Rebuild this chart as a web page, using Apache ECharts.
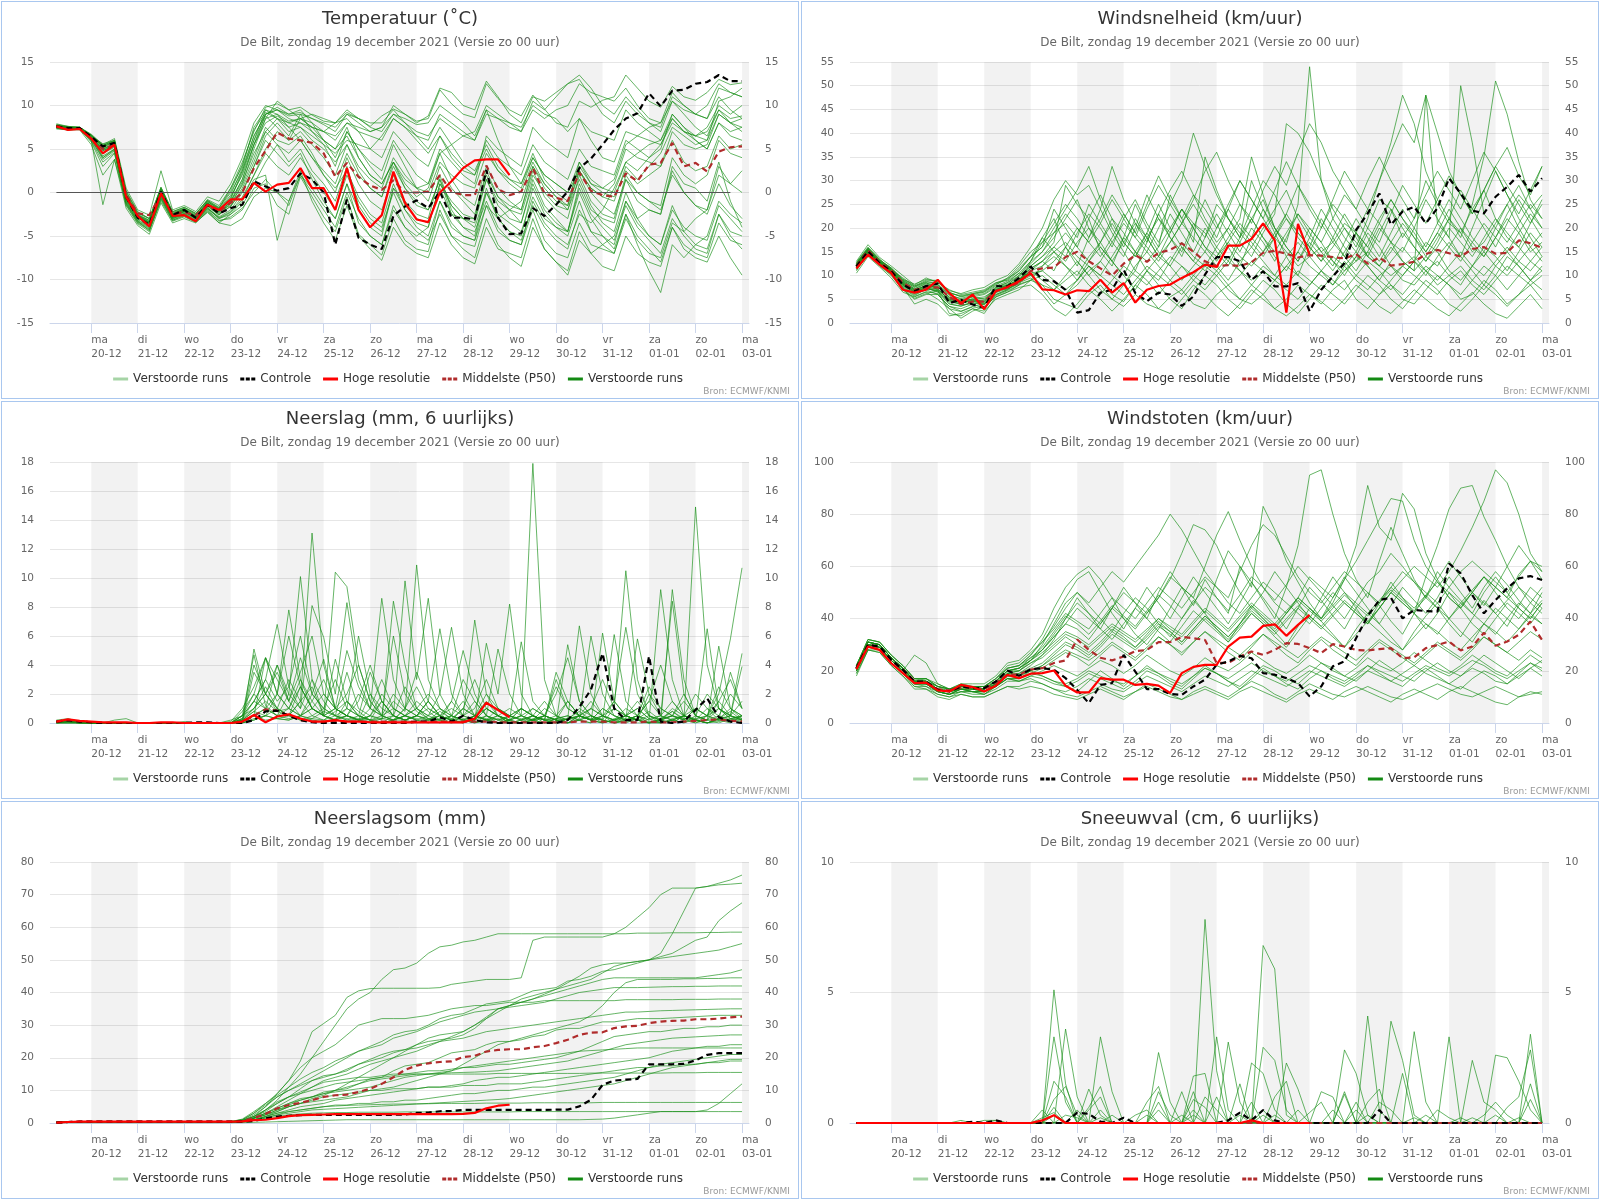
<!DOCTYPE html>
<html>
<head>
<meta charset="utf-8">
<script src="https://cdn.jsdelivr.net/npm/echarts@6/dist/echarts.min.js"></script>
<style>
  body { margin:0; width:1600px; height:1200px; background:#fff; position:relative; }
  .paneel { position:absolute; width:796px; height:396px; border:1px solid #a9c7ef; }
</style>
</head>
<body>
<div class="paneel" id="p1" style="left:1px;top:1px"></div>
<div class="paneel" id="p2" style="left:801px;top:1px"></div>
<div class="paneel" id="p3" style="left:1px;top:401px"></div>
<div class="paneel" id="p4" style="left:801px;top:401px"></div>
<div class="paneel" id="p5" style="left:1px;top:801px"></div>
<div class="paneel" id="p6" style="left:801px;top:801px"></div>
<script>
// tijdstippen in uren vanaf ma 20-12 00 uur (6-uurlijks)
var uren = [-18,-12,-6,0,6,12,18,24,30,36, 42,48,54,60,66,72,78,84,90,96,
  102,108,114,120,126,132,138,144,150,156, 162,168,174,180,186,192,198,204,210,216,
  222,228,234,240,246,252,258,264,270,276, 282,288,294,300,306,312,318,324,330,336];
var dagUren = [0,24,48,72,96,120,144,168,192,216,240,264,288,312,336];
var dagNamen = ['ma','di','wo','do','vr','za','zo','ma','di','wo','do','vr','za','zo','ma'];
var datums = ['20-12','21-12','22-12','23-12','24-12','25-12','26-12','27-12','28-12','29-12','30-12','31-12','01-01','02-01','03-01'];
var banden = [0,48,96,144,192,240,288,336];
var subtitel = 'De Bilt, zondag 19 december 2021 (Versie zo 00 uur)';

// ---------- temperatuur ----------
var tempControle = [7.6,7.4,7.4,6.4,5.3,5.7,-0.5,-2.9,-3.7,0.1,
  -2.6,-2.0,-2.9,-1.4,-2.4,-1.8,-1.4,1.3,0.7,0.2,
  0.5,2.2,1.5,0.0,-6.0,-0.8,-5.2,-6.0,-6.5,-2.7,
  -1.6,-0.9,-1.8,0.1,-2.9,-2.9,-3.1,2.6,-2.9,-4.8,
  -4.7,-1.8,-2.7,-1.4,0.1,2.8,3.9,5.5,7.2,8.5,
  9.1,11.4,9.9,11.7,11.8,12.5,12.7,13.5,12.8,12.8];
var tempHoge = [7.6,7.2,7.3,6.2,4.5,5.5,-0.5,-2.7,-3.9,-0.1,
  -2.7,-2.6,-3.3,-1.4,-2.0,-0.8,-0.8,1.1,0.1,0.9,
  1.1,2.8,0.5,0.5,-2.0,2.8,-2.0,-4.0,-2.6,2.4,
  -1.2,-3.1,-3.4,0.0,1.3,2.8,3.7,3.8,3.8,2.0];
var tempMediaan = [7.6,7.4,7.4,6.3,5.0,5.5,-0.3,-2.4,-2.6,-0.3,
  -2.4,-2.3,-2.6,-1.5,-2.2,-1.2,0.0,2.8,4.8,6.9,
  6.2,6.0,5.7,4.5,1.8,3.4,1.8,0.8,0.3,1.4,
  0.0,0.0,0.1,2.0,0.1,-0.3,-0.3,3.1,0.4,-0.3,
  0.1,2.8,-0.1,-0.6,-1.0,2.3,0.2,-0.3,-0.5,2.2,
  1.3,3.2,3.4,5.7,3.0,3.4,2.4,4.7,5.2,5.3];
var tempLeden = [
 [7.8,7.5,7.4,6.5,5.6,6.0,0.2,-2.2,-3.0,0.5, -2.3,-1.8,-2.5,-0.8,-1.5,0.5,3.5,7.0,9.8,10.2, 9.5,9.8,8.9,8.2,8.0,9.2,8.5,7.6,8.8,9.6, 9.0,8.2,8.5,11.8,10.2,9.0,8.6,12.5,10.8,9.5, 8.8,11.2,9.6,8.0,7.5,10.5,9.8,10.6,11.0,13.5, 12.0,10.5,9.8,12.2,11.0,10.6,11.5,13.0,12.4,12.6],
 [7.5,7.3,7.5,6.2,4.8,5.4,-0.8,-3.0,-3.5,0.0, -2.8,-2.2,-3.0,-1.6,-2.6,-1.0,1.5,5.5,8.5,9.0, 8.2,8.5,7.5,6.0,5.0,7.5,4.0,2.0,1.0,3.5, 0.5,-1.5,-2.0,1.5,-2.5,-4.0,-4.5,-1.0,-4.0,-5.5, -6.0,-2.0,-5.5,-7.0,-7.5,-3.5,-6.0,-6.5,-7.0,-2.5, -5.0,-6.5,-8.0,-4.0,-6.5,-7.5,-8.0,-5.0,-7.5,-9.5],
 [7.4,7.2,7.3,5.8,3.0,4.5,-1.5,-3.6,-4.5,-0.8, -3.2,-2.6,-3.3,-2.0,-3.2,-3.0,-2.0,0.5,1.0,-1.5, -2.5,1.8,-0.5,-2.8,-4.5,-0.5,-4.8,-6.0,-7.2,-3.0, -5.5,-6.5,-6.8,-2.0,-5.0,-5.8,-6.2,-1.5,-4.5,-5.5, -6.0,-1.0,-3.5,-5.0,-6.0,-2.5,-3.5,-2.0,0.5,3.5, 4.5,5.5,6.0,8.5,7.0,6.5,7.0,9.5,8.5,8.8],
 [7.7,7.5,7.4,6.6,5.2,5.8,-0.2,-2.6,-3.4,0.3, -2.5,-1.9,-2.7,-1.2,-2.0,-0.5,2.0,5.5,8.0,8.8, 8.0,7.5,6.5,5.5,4.5,6.0,5.5,5.0,6.5,8.5, 7.5,6.0,4.5,6.5,4.0,2.5,2.0,5.0,2.5,1.0, 0.0,3.5,1.0,-0.5,-1.5,2.5,0.5,-0.5,-1.0,3.0, 1.5,3.0,4.5,7.5,6.5,5.5,6.0,9.0,8.0,8.5],
 [7.3,7.2,7.2,5.5,2.0,3.8,-1.8,-3.8,-4.8,-1.2, -3.5,-3.0,-3.5,-2.2,-3.5,-3.8,-3.0,-0.5,0.5,0.0, -1.0,2.5,-1.0,-3.5,-5.5,-1.5,-5.0,-6.5,-7.8,-4.0, -6.0,-7.0,-7.5,-3.5,-6.0,-7.5,-8.2,-4.0,-6.5,-7.0, -7.5,-3.0,-6.5,-8.0,-9.5,-5.5,-7.0,-6.0,-5.0,-1.0, -3.5,-5.0,-6.0,-2.0,-4.0,-5.0,-5.5,-1.5,-3.0,-4.5],
 [7.6,7.4,7.4,6.3,4.0,5.0,-1.0,-3.2,-4.0,-0.3, -3.0,-2.4,-3.1,-1.8,-2.8,-2.0,0.0,3.0,6.5,8.0, 6.5,9.0,7.0,5.5,3.0,7.0,5.0,3.0,1.5,5.5, 3.0,0.5,-1.0,3.0,0.5,-1.0,-2.5,2.0,-0.5,-2.0, -3.5,1.5,-1.5,-3.0,-4.5,0.0,-3.0,-5.0,-6.5,-2.5, -6.0,-9.0,-11.5,-6.0,-7.5,-6.0,-5.0,-1.0,-2.5,-3.5],
 [7.8,7.6,7.5,6.7,5.5,6.2,0.5,-2.0,-2.6,2.5, -2.0,-1.5,-2.2,-0.5,-1.0,1.0,4.0,8.0,10.0,9.5, 8.8,9.0,8.5,7.8,7.0,9.0,8.0,7.0,7.5,10.0, 9.0,8.0,8.8,12.0,11.5,10.0,9.5,12.8,11.0,9.0, 8.0,11.0,10.5,11.5,12.5,13.5,12.0,10.0,9.0,11.0, 9.5,8.0,7.0,10.5,9.0,7.5,6.5,9.5,8.0,7.0],
 [7.5,7.4,7.4,6.3,4.5,5.2,-0.6,-2.8,-3.8,-0.4, -2.9,-2.3,-3.0,-1.5,-2.6,-1.2,0.8,4.0,7.5,6.0, 5.5,6.5,4.5,2.0,0.0,4.0,1.0,-1.0,-2.0,2.0, -1.5,-3.0,-3.5,0.5,-2.5,-3.0,-3.0,2.5,-0.5,-1.5, -2.0,3.0,0.5,-1.0,-1.5,3.5,1.0,0.0,-0.5,2.5, 1.0,2.0,3.0,6.0,3.5,2.5,3.0,6.5,5.0,5.5],
 [7.6,7.5,7.4,6.4,5.0,5.5,-0.4,-2.5,-3.2,0.2, -2.6,-2.0,-2.8,-1.0,-2.0,-1.5,1.0,5.0,8.5,10.5, 9.5,8.5,8.0,7.0,6.5,8.0,7.5,7.0,7.5,9.0, 8.5,7.8,8.0,10.0,9.0,8.0,6.5,9.5,6.0,3.0, 1.0,4.5,1.5,0.0,-1.0,3.0,1.0,0.5,1.5,5.5, 6.5,7.5,8.0,10.5,9.5,9.0,10.0,12.5,11.5,11.0],
 [7.4,7.3,7.3,6.0,-1.4,3.8,-1.2,-3.4,-4.2,-1.0, -3.3,-2.8,-3.4,-2.3,-3.5,-2.5,-1.0,1.5,2.0,-5.5, -1.0,2.0,0.5,-1.5,-3.0,1.0,-2.0,-4.0,-5.0,0.5, -2.0,-3.5,-4.0,1.0,-1.5,-3.0,-4.0,0.0,-2.5,-3.5, -4.5,-0.5,-3.0,-4.0,-5.0,-1.0,-4.5,-6.0,-7.0,-3.0, -5.5,-7.0,-7.5,-3.5,-4.5,-3.0,-2.0,2.0,1.0,2.5],
 [7.9,7.6,7.5,6.6,5.4,6.0,0.0,-2.4,-3.0,0.6, -2.2,-1.7,-2.4,-0.9,-1.8,0.0,2.5,6.5,9.0,9.5, 8.5,8.0,7.5,7.0,8.0,8.5,7.0,5.0,4.0,7.0, 5.5,4.0,3.0,6.5,4.5,3.0,2.0,6.0,4.0,3.0, 2.0,5.5,3.5,2.5,1.5,5.0,3.0,2.5,2.0,6.0, 5.0,4.0,5.0,9.0,7.5,6.5,6.0,10.5,11.0,12.0],
 [7.6,7.4,7.4,6.2,4.2,5.0,-0.9,-3.1,-3.9,-0.2, -2.9,-2.4,-3.2,-1.7,-3.0,-2.5,-1.5,1.0,3.5,5.5, 3.5,5.0,2.5,1.0,-1.0,3.0,-1.5,-3.5,-4.5,0.5, -1.0,-2.5,-3.0,2.0,-2.0,-4.0,-5.0,0.5,-3.0,-4.5, -5.5,-1.5,-4.0,-5.5,-6.5,-2.0,-4.5,-5.0,-6.0,-1.0, -3.0,-2.0,-2.5,3.0,1.0,0.5,-1.0,3.5,-1.0,-4.0],
 [7.7,7.5,7.5,6.5,5.4,5.9,-0.3,-2.7,-3.5,0.4, -2.4,-1.9,-2.8,-1.3,-2.2,-0.8,2.5,6.0,9.5,8.5, 7.0,7.5,6.0,5.0,3.5,5.5,3.0,1.5,0.5,4.0, 2.0,0.5,0.0,3.5,2.0,1.0,0.5,4.5,2.5,1.5, 1.0,4.0,2.0,1.0,0.0,2.5,0.0,-1.5,-2.5,1.5, 0.0,-1.0,-2.0,2.0,0.0,-1.5,-2.5,1.0,-1.5,-3.0],
 [7.5,7.3,7.3,6.1,3.8,4.8,-1.3,-3.3,-4.4,-0.6, -3.1,-2.5,-3.3,-1.9,-2.9,-2.2,-0.5,2.0,5.0,7.0, 6.0,8.5,9.0,8.5,8.0,9.5,8.5,7.5,7.0,9.0, 8.0,7.0,6.5,8.5,7.5,6.5,6.0,9.0,8.5,8.0, 7.5,10.0,9.0,8.5,7.0,8.5,6.0,4.0,3.5,7.0, 6.5,6.0,5.5,8.5,7.0,6.0,5.0,8.0,6.5,6.0],
 [7.6,7.4,7.4,6.4,4.8,5.4,-0.5,-2.8,-3.6,0.0, -2.7,-2.1,-3.0,-1.4,-2.4,-1.6,0.5,3.5,7.0,8.5, 7.5,6.0,4.0,2.0,0.5,2.5,-0.5,-2.5,-3.5,1.0, -2.0,-4.0,-5.0,-1.0,-3.5,-5.0,-5.5,-1.5,-3.0,-2.0, -1.0,3.0,1.0,-0.5,-2.0,1.5,-1.5,-3.5,-4.5,0.0, -3.0,-5.0,-6.0,-1.5,-4.5,-6.0,-6.5,-2.5,-5.0,-6.5],
 [7.7,7.4,7.4,6.3,5.0,5.6,-0.7,-3.0,-3.4,0.2, -2.7,-2.2,-2.9,-1.1,-1.8,0.5,3.0,7.5,9.5,9.0, 7.5,8.0,7.0,6.0,5.0,6.5,4.0,2.0,1.0,3.5, 1.0,-0.5,0.5,4.5,5.5,6.5,7.0,10.0,9.0,8.0, 7.0,9.5,8.5,9.5,10.0,12.5,11.5,11.0,10.5,12.0, 10.0,8.5,8.0,11.5,10.0,9.0,8.5,11.0,9.5,8.5],
 [7.6,7.5,7.4,6.5,5.2,5.9,-0.2,-2.6,-3.2,0.4, -2.5,-2.0,-2.7,-1.2,-2.1,-0.6,2.2,6.0,8.8,7.5, 6.0,7.0,5.5,4.0,2.0,5.5,2.5,0.5,-0.5,3.5, 1.5,0.5,1.0,5.0,3.5,2.0,1.0,6.5,5.0,4.0, 3.0,7.5,6.0,5.0,4.0,8.5,7.0,6.5,6.0,9.5, 8.0,7.0,6.0,9.0,7.5,6.0,5.0,8.0,7.0,7.5],
 [7.5,7.3,7.4,6.2,4.6,5.3,-0.7,-2.9,-3.6,-0.1, -2.8,-2.2,-3.0,-1.5,-2.5,-1.6,0.2,3.0,6.0,4.5, 3.0,4.5,1.5,-1.0,-3.0,1.0,-3.5,-5.0,-6.0,-1.5, -4.0,-5.5,-6.0,-1.0,-4.0,-5.0,-5.5,0.0,-3.0,-4.5, -5.0,0.5,-2.5,-4.0,-4.5,1.0,-2.0,-3.0,-3.5,1.5, -1.0,-2.0,-2.5,2.5,0.0,-1.5,-2.0,3.0,1.0,0.0],
 [7.7,7.5,7.5,6.6,5.4,6.0,0.1,-2.3,-3.0,0.6, -2.2,-1.7,-2.4,-0.9,-1.7,0.2,3.2,7.2,9.2,8.5, 8.0,8.5,7.5,7.0,6.0,8.0,7.0,6.5,6.0,8.5, 7.5,6.5,6.0,9.0,8.0,7.0,6.0,9.5,8.5,7.5, 7.0,10.5,9.5,11.0,12.5,13.0,11.0,9.0,8.0,10.5, 9.0,8.0,7.5,11.0,10.0,9.0,8.5,12.0,11.5,11.0],
 [7.5,7.3,7.3,6.0,4.0,4.9,-1.1,-3.3,-4.1,-0.5, -3.0,-2.5,-3.3,-1.8,-3.0,-2.3,-0.8,2.0,4.5,3.0, 2.0,4.0,2.0,0.0,-2.0,2.0,-1.0,-3.0,-4.0,0.0, -3.0,-4.5,-5.5,-2.5,-5.0,-6.5,-7.5,-3.0,-6.0,-7.5, -8.5,-4.0,-6.5,-8.0,-9.0,-4.5,-7.0,-8.5,-9.0,-5.0, -7.0,-8.0,-8.5,-4.0,-6.0,-7.0,-7.5,-3.5,-5.5,-6.0],
 [7.6,7.4,7.4,6.3,4.9,5.5,-0.5,-2.7,-3.5,0.1, -2.6,-2.1,-2.8,-1.3,-2.3,-1.0,1.5,5.5,9.0,9.5, 9.0,9.5,8.0,6.0,4.0,7.0,5.0,3.5,2.5,6.0, 4.0,2.0,1.0,4.5,1.5,-0.5,-1.5,3.0,0.5,-1.0, -2.0,2.5,-0.5,-2.0,-3.0,2.0,-1.0,-2.5,-3.0,2.0, 0.0,-1.0,-1.5,4.0,2.0,1.0,2.0,6.0,4.5,4.0],
 [7.7,7.5,7.4,6.5,5.3,5.8,-0.3,-2.6,-3.3,0.3, -2.4,-1.9,-2.6,-1.0,-1.9,-0.3,2.8,6.5,9.0,9.8, 9.0,9.2,8.5,8.0,7.5,9.0,8.5,8.0,8.0,9.5, 8.0,6.5,5.0,7.5,5.5,3.5,2.5,5.5,3.0,1.5, 0.5,4.0,2.0,1.0,0.0,3.5,1.5,0.5,0.0,3.5, 2.5,4.0,5.5,8.0,7.0,6.5,7.5,10.0,9.0,10.0],
 [7.4,7.2,7.3,5.9,3.5,4.6,-1.4,-3.5,-4.3,-0.7, -3.2,-2.7,-3.4,-2.1,-3.3,-2.8,-1.8,0.0,1.5,0.0, -1.5,2.0,0.0,-2.0,-4.0,0.0,-3.0,-5.0,-6.0,-2.0, -4.0,-5.0,-4.0,1.0,-1.0,-2.5,-3.0,1.5,-1.0,-2.0, -2.5,2.0,0.0,-1.5,-2.0,2.5,0.5,-0.5,1.0,5.0, 4.0,3.5,3.0,7.0,5.5,5.0,5.5,9.0,8.0,7.5],
 [7.6,7.4,7.4,6.4,5.1,5.6,-0.4,-2.7,-3.4,0.2, -2.6,-2.0,-2.8,-1.2,-2.2,-1.1,1.2,4.5,7.0,5.5, 4.5,6.0,4.0,2.5,1.0,4.5,2.0,0.5,-0.5,3.0, 0.5,-1.0,-2.0,1.5,-1.5,-3.0,-3.5,1.5,-1.5,-3.0, -3.5,1.0,-2.0,-3.5,-4.5,0.5,-2.5,-4.0,-5.5,-1.5, -4.0,-5.5,-7.0,-3.0,-5.0,-6.5,-7.0,-2.5,-4.5,-5.0]
];

// ---------- windsnelheid ----------
var windControle = [11.9,15.1,12.6,10.9,8.1,6.7,7.8,8.3,4.2,4.9,
  3.9,3.2,7.8,7.7,9.5,11.9,9.1,8.8,7.0,2.2,
  2.7,6.4,7.0,11.2,6.3,4.6,6.4,6.0,3.6,5.6,
  10.2,13.9,13.9,13.0,9.1,10.9,7.7,7.7,8.4,2.5,
  7.0,9.8,12.6,19.6,23.1,27.3,20.7,23.5,24.5,21.0,
  24.2,30.5,27.3,23.7,23.1,26.6,28.7,31.2,27.7,30.5];
var windHoge = [11.5,14.4,12.3,10.5,7.0,6.4,7.0,9.1,6.3,4.2,
  6.0,2.9,6.7,7.6,8.8,10.5,7.1,6.9,6.0,6.9,
  6.7,9.1,6.4,8.4,4.3,7.0,7.8,8.1,9.5,10.7,
  12.3,11.8,16.3,16.3,17.7,21.0,17.4,2.2,20.9,14.4];
var windMediaan = [12.0,15.3,12.8,11.0,8.5,7.0,7.5,7.5,5.5,4.0,
  4.5,4.5,6.8,7.5,8.5,11.0,11.5,11.7,13.9,15.0,
  13.0,11.5,10.0,12.5,14.3,12.9,14.8,15.4,16.8,15.0,
  13.0,12.0,12.2,12.0,12.8,14.8,15.2,14.6,13.8,14.3,
  14.2,13.9,13.6,14.5,12.5,13.8,12.1,12.4,12.9,14.5,
  15.4,14.7,14.0,15.6,16.0,14.6,14.8,17.4,16.8,15.8];
var windLeden = [
 [12.5,15.8,13.2,11.5,9,7.5,8.5,7,5,4.5, 5.5,5,7,8,10,13,15,18,22,26, 20,17,22,19,15,13,16,20,24,21, 18,25,22,19,16,20,24,28,22,18, 15,17,21,19,14,12,16,13,11,14, 18,22,19,15,17,21,25,20,16,19],
 [11,14.5,12,10,7,5,6,6,3.5,3, 4,3,6,7,9,12,14,17,29,25, 22,15,12,18,25,20,16,27,22,17, 35,28,22,18,30,24,20,17,25,54, 30,22,18,15,20,26,24,18,22,30, 25,21,19,24,28,22,18,16,21,25],
 [12,15,12.5,10.5,7.5,4,5,4,1.5,2, 3,2.5,5,6,7,9,8,5,4,3, 6,8,5,3.5,6,4,3,5.5,7,4, 3,6,8,5,4,6,3,5,8,6, 4,7,9,5,3,6,8,5,4,7, 10,8,5,6,9,7,4,6,8,5],
 [13,16.5,13.8,12,10,8,9.5,8.5,7,6, 6.5,7,8.5,9,11,14,16,20,24,28, 33,26,20,16,22,18,14,19,24,20, 16,14,18,22,35,27,20,16,13,18, 24,20,16,13,17,22,26,22,18,15, 19,24,20,16,14,18,23,27,24,20],
 [11.5,14.8,12.3,10.8,8,6.5,7.5,6.5,4,3.5, 4.5,4,6.5,7.5,9,11.5,13,15,17,14, 12,10,14,18,15,11,9,13,17,14, 12,16,20,17,14,19,23,42,40,36, 30,24,20,16,22,30,38,48,42,32, 26,22,18,25,35,51,44,34,26,22],
 [12.2,15.2,12.7,11,8.2,6.8,8,7.5,5.5,4.8, 5,4.5,7.5,8.5,10.5,10,8,7,9,11, 8,6,9,12,10,8,11,14,12,9, 7,10,13,11,8,6,9,12,10,8, 11,14,12,9,7,10,12,9,8,11, 13,10,8,12,15,12,10,13,16,13],
 [10.5,14,11.8,9.5,6.5,5.5,6.5,5,3,1, 2.5,3.5,5.5,6.5,8,13,18,22,16,12, 18,24,19,15,11,17,23,18,14,20, 26,21,16,12,18,24,19,14,10,16, 22,18,14,11,15,20,17,13,11,48, 21,18,14,20,26,32,27,22,18,14],
 [12.8,16,13.5,11.2,9.5,7.8,9,9,6.5,5.5, 6,6.5,8,9.5,12,15,17,19,21,18, 25,21,17,14,20,27,22,18,15,21, 19,15,12,17,22,18,14,11,15,20, 17,13,10,14,19,16,12,10,13,17, 15,11,9,12,16,14,11,15,19,16],
 [11.8,15,12.5,10.5,7.8,6,7,6,3.5,2.5, 3.5,4,6,7,8.5,9.5,7,4,6,9, 12,9,6,4.5,8,11,8,5,3,7, 10,8,5,3,6,9,7,4,2,5, 8,6,4,7,10,8,5,3,6,9, 7,4,2.5,5,8,6,3.5,6,9,7],
 [12.3,15.5,13,11.3,8.8,7.2,8.2,8,6,5, 5.5,6,7.5,8.5,10,12.5,15,19,23,20, 17,21,26,22,18,24,29,25,21,26, 32,36,30,25,21,28,33,29,36,42, 38,32,28,24,30,35,30,26,22,27, 32,28,24,30,36,32,27,23,28,33],
 [12,15,12.8,11,8.4,7,7.8,7.8,5.2,4.2, 4.8,4.8,7.2,8,9,11,12,14,12,10, 14,17,13,10,15,19,15,12,16,13, 11,14,17,14,12,15,18,15,12,14, 16,13,11,13,15,12,10,12,14,11, 9,12,15,12,10,13,16,13,11,14],
 [11.2,14.7,12.2,10.2,7.2,5.2,6.2,6.8,2,1.5, 3,2,5.5,6.5,7.5,8,6,3,1.5,4, 7,5,2.5,5,8,6,3,2,5,8, 6,3.5,1.5,4,7,5,3,1.5,3.5,6, 4.5,2.5,5,8,6,3.5,2,4.5,7,5, 3,1.5,4,6.5,4,2,1,3.5,6,3],
 [12.6,15.7,13.3,11.6,9.2,8.2,9.2,8.8,6.8,6.2, 7,7.5,9,10,12.5,16,20,26,30,27, 29,24,33,26,21,17,23,28,32,27, 22,18,24,30,26,22,18,23,29,25, 21,17,14,19,24,21,17,15,20,26, 22,18,50,38,23,20,17,21,25,22],
 [12.1,15.4,12.9,11.1,8.6,6.9,7.6,7.2,4.8,3.8, 4.2,3.8,6.6,7.8,9.2,10.5,11,13,16,13, 10,13,17,21,18,15,20,25,30,40, 33,27,22,18,24,30,27,22,18,15, 20,25,22,18,14,19,24,20,16,13, 17,22,28,24,20,16,21,26,22,18],
 [11.6,14.9,12.4,10.6,7.6,5.8,7.2,6.8,4.4,4, 5.2,5.5,7,7.2,8.2,9,10,8,6,8, 11,13,10,8,12,15,12,9,7,10, 13,11,8,10,13,11,9,12,15,12, 10,8,11,14,12,9,7,10,13,11, 8,10,12,9,7,10,14,12,9,11],
 [12.4,15.6,13.1,11.4,9,7.6,8.8,8.2,6.2,5.8, 6.2,6.8,8.2,9.2,11.5,14,18,15,13,17, 20,16,13,17,21,18,14,17,21,25, 21,17,20,25,22,18,15,19,23,20, 17,22,27,24,20,17,23,29,25,21, 26,31,27,23,28,33,37,31,27,33],
 [12.2,15.3,12.8,11.2,8.6,7,7.8,7.6,5.4,4.6, 5,5.2,7.4,8.2,9.8,12,14,16,14,19, 23,20,16,22,26,21,17,23,19,15, 20,16,13,18,22,26,20,16,13,17, 14,11,15,19,16,13,17,21,18,14, 12,16,20,17,14,18,22,19,15,17],
 [11.8,15,12.6,10.8,8,6.2,7.2,6.8,4.6,4.2, 4.6,4.2,6.8,7.6,9,11,9,7,10,13, 10,7,5,8,11,9,6,9,12,10, 8,11,14,11,9,12,10,8,11,9, 7,10,13,10,8,6,9,12,10,8, 6,9,11,8,6,9,12,10,8,10],
 [12.4,15.5,13,11.3,8.8,7.2,8.4,8,5.8,5.2, 5.8,6.2,7.8,8.8,10.5,13,17,21,25,22, 18,22,27,23,19,25,31,26,22,27, 24,20,25,30,26,22,28,34,29,24, 20,26,32,28,24,30,36,42,38,48, 40,32,27,23,28,33,29,25,21,26],
 [11.9,15.1,12.7,10.9,8.2,6.4,7.4,6.6,4,3.6, 4.2,4,6.4,7.2,8.6,10,11,9,7,9, 12,10,8,6,9,12,10,8,6,9, 12,10,7,5,8,11,9,7,5,8, 11,9,7,10,13,11,8,6,9,12, 10,8,6,9,12,10,7,10,13,11],
 [12.6,15.8,13.3,11.6,9.2,7.8,8.6,8.6,6.4,5.6, 6.2,6.6,8.4,9.4,11,14,16,24,20,16, 22,27,22,17,14,19,25,20,16,13, 18,23,19,15,20,17,13,18,23,19, 15,12,17,22,18,14,19,24,20,16, 21,26,22,18,15,20,25,29,24,27],
 [11.4,14.6,12.2,10.4,7.4,5.6,6.6,6.2,3,2.4, 3.4,3,5.8,6.8,8,9,12,15,12,9, 13,16,13,10,7,11,14,12,9,12, 15,12,9,13,16,13,10,14,17,14, 11,8,12,15,12,9,13,16,13,10, 14,17,14,11,8,12,15,12,9,12],
 [12.3,15.4,12.9,11,8.4,6.6,7.4,7,5,4.4, 4.8,4.6,7,7.8,9.4,11.5,13,11,16,20, 17,14,18,23,19,16,13,17,21,18, 15,20,24,20,17,14,18,22,19,16, 13,18,23,19,16,21,26,22,19,15, 19,16,13,17,21,18,15,19,23,20],
 [12,15.2,12.6,10.8,8.2,6.6,7.6,7.2,4.8,4.4, 4.6,4.4,7,8,9.2,11,13,16,19,16, 13,17,21,17,14,18,22,19,24,20, 16,13,17,21,18,15,19,23,19,16, 13,16,20,17,14,12,15,19,16,13, 16,20,17,14,18,22,19,16,13,16]
];

// ---------- neerslag ----------
var regenControle = [0.1,0.2,0.1,0.05,0,0,0,0,0,0,
  0,0,0.05,0.05,0,0,0,0.2,0.8,0.85,
  0.5,0.2,0.05,0,0,0,0,0,0,0,
  0,0.1,0.1,0.4,0.1,0.5,0.2,0.05,0,0,
  0,0,0,0,0.2,1.1,2.3,4.8,1.0,0.2,
  0.2,4.6,0.1,0,0.1,0.9,1.7,0.4,0.1,0];
var regenHoge = [0.1,0.25,0.15,0.1,0.05,0.05,0.05,0,0,0.05,
  0.05,0,0,0,0,0,0.1,0.55,0.05,0.45,
  0.6,0.3,0.1,0.1,0.2,0.1,0.1,0.05,0.05,0.05,
  0.05,0.05,0.05,0.05,0.05,0.05,0.3,1.4,0.9,0.4];
var regenMediaan = [0.1,0.2,0.1,0.05,0,0,0,0,0,0,
  0,0,0,0,0,0,0.05,0.5,0.95,0.85,
  0.5,0.2,0.1,0.1,0.1,0.1,0.1,0.1,0.1,0.1,
  0.1,0.1,0.1,0.1,0.1,0.1,0.1,0.1,0.05,0.05,
  0.05,0.05,0.05,0.05,0.05,0.1,0.1,0.1,0.05,0.05,
  0.05,0.1,0.05,0.05,0.1,0.15,0.2,0.25,0.15,0.1];
var regenLeden = [
 [0.1,0.2,0,0,0,0,0,0,0,0, 0,0,0,0,0,0,0.5,4.7,1.2,0.5, 2,10.1,3,0.5,0.2,1.5,0.8,0.2,0,0.5, 2.5,1,0.3,0,0.5,3,1.5,0.5,0,0.2, 0.5,17.9,3,0.5,0,0.2,1,0.5,0.2,0, 0.3,0.8,0.2,0,0.5,2,1,0.2,0,0.5],
 [0.2,0.3,0.1,0,0,0,0,0,0,0, 0,0,0,0,0,0,0,5.1,2,0.8, 0.5,1.5,13.1,4,1,0.5,0.2,0,0.3,1.5, 0.8,10.9,3,1,0.2,0,0.5,1.5,0.5,0, 0.2,0.5,0,0,0.3,6.7,2,0.5,0,0.2, 0.5,0,0.2,0.8,0.3,0,0.2,5.3,1,0.3],
 [0,0.1,0.1,0,0,0,0,0,0,0, 0,0,0,0,0,0.1,1,2.5,4.5,2, 7.8,3,1,0.5,10.4,9.4,4,1.5,0.5,0.2, 0.5,1.5,0.8,0.2,0,0.5,7.1,2,0.5,0, 0,0.5,0.2,0,0.3,0.8,0.2,0,1,10.5, 3,0.5,0,0.2,0.5,0.2,0,0.3,0.8,0.2],
 [0.1,0.2,0.1,0.1,0,0.2,0.3,0,0,0, 0,0,0,0,0,0,0.3,1.5,3,6.8, 2.5,1,8.1,5.9,2,8.3,3,1,0.5,2, 1,0.5,0.2,0.8,0.3,0,0.2,0.5,0.2,0, 0,0.2,0.5,0.2,0,0.3,6,2,0.5,0.2, 0,0,0,9.2,3,0.5,0.2,0,0.3,0.5],
 [0.1,0.1,0,0,0,0,0,0,0,0, 0,0.1,0,0,0,0,0.8,2,1,4, 1.5,4.5,2,4.4,1,5,2.5,1,8.6,3, 1,0.5,0.2,0,0.3,1,0.5,0.2,0,0.5, 1,0.5,0.2,0,5.4,1.5,0.5,0,0.2,0.5, 0.2,0,0.3,0.8,0.2,14.9,4,1,0.3,0.2],
 [0,0.1,0,0,0,0,0,0,0,0, 0,0,0,0,0,0,0.2,0.5,0.2,0.3, 0.5,0.2,0.3,0.8,0.5,0.2,0.1,0.5,0.2,8.4, 4,1,0.5,2,6.6,2,0.5,0.2,0,0, 0.2,0.5,0.2,0.3,0.5,0.2,0,0.5,0.2,0.3, 5.8,2,0.5,0.2,0,0.3,6.5,1,0.3,0.5],
 [0.1,0.2,0.1,0,0,0,0,0,0,0, 0,0,0,0,0,0,0.1,3.5,2,1, 3,1.5,0.5,0.2,0.8,1.5,0.5,0.2,0.3,0.5, 9.8,3,8.6,2,0.5,0.2,0,0.5,5.1,2, 0.5,0.2,0,0.3,0.5,0.2,0,6.2,1.5,0.5, 0.2,0,0.3,0.5,0.2,0,0.5,2,5.8,10.7],
 [0,0,0,0,0,0,0,0,0,0, 0,0,0,0,0,0,0,0.5,1,0.5, 0.3,0.5,1,0.5,0.2,0.5,0.3,0.2,0,0.2, 0.5,0.3,0.2,0.5,0.2,0.3,0.2,5.5,2,8.2, 2,0.5,0.2,0,0.3,0.5,0.2,0.3,6.1,1.5, 0.5,0.2,9.2,3,0.5,0.2,0,0.3,0.5,4.8],
 [0.1,0.1,0.1,0,0,0,0,0,0,0, 0,0,0,0,0,0.2,0.5,1.5,3,1.5, 2.5,6,2,1,0.5,3.5,1,0.5,2,1, 0.5,1,0.5,0.2,1.5,0.5,0.2,1,0.5,0.2, 5.6,1.5,0.5,0.2,0,0.5,1,0.5,0.2,0.5, 1,0.3,0.5,8.4,2,0.5,0.2,1.5,0.5,3.9],
 [0,0,0,0,0,0,0,0,0,0, 0,0,0,0,0,0,0.2,0.8,1.5,0.8, 1,2.5,1,0.5,4.4,1.5,0.5,0.2,0.5,1, 0.5,0.2,0.5,1,0.5,0.2,0.5,0.2,0,0.2, 0.5,1,0.5,0.2,0.3,0.5,0.2,0,0.2,0.5, 1,0.3,0,0.2,0.5,0.2,0,0.3,1,0.5],
 [0.1,0.2,0.1,0,0,0,0,0,0,0, 0,0,0,0,0,0,0.5,2,4.5,3, 1.5,3.5,6,2,1,2,4,1.5,0.5,6, 2,0.8,0.3,0.5,1,0.5,1,3,1,0.5, 0.2,0.5,1.5,0.5,0.2,1,0.5,0.2,1.5,6.6, 2,0.5,0.2,1,0.5,0.3,0.5,1.5,3,1],
 [0,0,0,0,0,0,0,0,0,0, 0,0,0,0,0,0,0,0.3,0.5,0.3, 0.2,0.5,0.3,0.2,0.5,0.3,0.2,0.5,0.3,0.2, 0.2,0.5,0.3,0.2,0,0.2,0.5,0.3,0,0.2, 0.5,0.2,0,0.3,0.2,0.5,0.3,0.2,0,0.3, 0.2,0,0.2,0.5,0.3,0.2,0,0.2,0.5,0.3],
 [0.1,0.2,0.1,0,0,0,0,0,0,0, 0,0,0,0,0,0,0.3,1,2.5,1, 0.5,1.5,2.5,0.5,1,0.5,0.2,1,3,1, 0.5,1,2,1,0.5,1.5,0.5,0.2,1,0.5, 0.2,1,0.5,0.2,1.5,0.5,1,3,1,0.5, 0.2,2,1,0.5,0.2,1,0.5,2.5,1,0.5],
 [0.1,0.1,0,0,0,0,0,0,0,0, 0,0,0,0,0,0,0.1,0.5,1,2, 1,0.5,1.5,3,1,0.5,2,1,0.5,0.2, 1,2.5,1,0.5,0.2,0.5,1.5,0.5,0.2,0.5, 0.3,0.2,0.5,2.5,1,0.5,0.2,0.5,1,0.5, 0.2,0.5,0.2,0.5,1.5,0.5,0.2,0.5,2,1],
 [0,0.1,0,0,0,0,0,0,0,0, 0,0,0,0,0,0,0,0.2,0.5,1, 0.5,0.2,0.5,1,0.5,0.2,0.5,0.2,0,0.2, 0.5,0.2,0,0.3,0.5,0.2,0,0.2,0.5,0.2, 0,0.3,0.5,0.2,0,0.5,0.2,0,0.3,0.5, 0.2,0,0,0.3,0.5,0.2,0,0.3,0.2,0],
 [0.1,0.2,0.1,0,0,0,0,0,0,0, 0,0,0,0,0,0,0.5,1,2,4, 2,1,3,1.5,0.5,1,0.5,3.5,1.5,0.5, 0.2,0.5,1.5,0.5,0.2,1,3,1,0.5,0.2, 1,0.5,0.2,3.5,1.5,0.5,0.2,1,0.5,0.2, 0.5,1.5,4,1.5,0.5,0.2,1,0.5,0.2,0.5],
 [0,0,0,0,0,0,0,0,0,0, 0,0,0,0,0,0,0.3,4,2,1, 0.5,2.5,1,0.5,0.2,1,6,2,0.5,0.2, 1,3.5,1.5,0.5,0.2,0,0.5,2,1,0.5, 0.2,0,0.5,2,4.5,1.5,0.5,0.2,0,0.5, 1.5,0.5,0.2,0,0.5,1,0.5,0.2,3.5,1],
 [0.1,0.1,0,0,0,0,0,0,0,0, 0,0,0,0,0,0,0.1,0.5,4.5,2, 1,0.5,2,1,3,1,0.5,0.2,1.5,0.5, 0.2,0.5,1.5,6.5,2,0.5,0.2,1,0.5,0.2, 1,0.5,0.2,3,1,0.5,0.2,0.5,1.5,0.5, 0.2,0,0.2,0.5,2,0.5,0.2,1,0.5,0.2],
 [0,0.1,0,0,0,0,0,0,0,0, 0,0,0,0,0,0,0.2,0.8,0.5,2, 6,2.5,1,0.5,0.2,0.5,0.2,0.5,1.5,0.5, 0.2,0,0.2,0.5,0.2,0,0.5,1,0.5,0.2, 0,0.2,0.5,0.2,0,0.2,0.5,0.2,0,0.2, 0.5,1.5,0.5,0.2,0,0.5,2,1,0.5,0.2],
 [0.1,0.2,0.1,0,0,0,0,0,0,0, 0,0,0,0,0,0,0.5,1.5,1,0.5, 1,3,1.5,0.5,1,0.5,0.2,2,1,0.5, 0.2,0.5,1,0.5,1.5,5,2,0.5,0.2,0.5, 1,0.5,0.2,0.5,1.5,0.5,0.2,1,0.5,0.2, 0.5,2.5,1,0.5,0.2,1,0.5,0.2,0.5,1.5],
 [0,0,0,0,0,0,0,0,0,0, 0,0,0,0,0,0,0,0.2,0.5,0.3, 0.2,0.5,0.2,0.1,0.3,0.5,0.2,0.1,0,0.2, 0.5,0.2,0,0.2,0.5,0.2,0,0.2,0.3,0.1, 0,0.2,0.3,0.1,0,0.2,0.5,0.2,0,0.1, 0.3,0.1,0,0.2,0.5,0.2,0,0.1,0.3,0.1],
 [0.1,0.1,0,0,0,0,0,0,0,0, 0,0,0,0,0,0,0.2,1,2,3.5, 1.5,0.5,1,2,1,0.5,1.5,4,1.5,0.5, 0.2,0.5,1.5,0.5,0.2,1,0.5,0.2,0.5,1, 0.5,0.2,1,0.5,0.2,0.5,1.5,0.5,0.2,1, 0.5,0.2,0.5,1.5,0.5,0.2,0.5,1,0.5,0.2]
];

// ---------- windstoten ----------
var stootControle = [21,30,29.3,24.2,20.4,15.9,15.9,12.7,12.1,14,
  13.4,13.4,15.9,20.1,18.1,20.6,21,20.4,17.2,12.7,
  7.6,14.6,15.3,26.1,19.7,13,13,11.1,10.8,14,
  16.6,22.3,23.6,25.7,24.8,19.1,18.5,17.2,15.3,10.2,
  14,21.7,23.6,32.5,41,47.1,48,40.1,43.3,42.9,
  42.7,61.1,57.3,49,42,47.1,51.6,55.4,56.3,54.8];
var stootHoge = [20.6,29.3,28,22.9,19.1,15.3,15.5,12.5,12.1,14.6,
  13.8,12.1,14.3,18.5,17.2,18.9,19.1,20.1,14.3,11.7,
  11.7,17.2,16.6,16.6,14.6,15,14.3,11.5,19.1,21.5,
  22.3,22.3,29.3,32.7,33.1,37.2,37.8,33.4,37.6,41.4];
var stootMediaan = [21,30,29,24,20.5,16,15.5,13,12.5,13.5,
  13.5,13,15.5,18.5,18.5,20.5,21,23,24,32,
  28,25,24,25.5,27.5,28,31,31,33,32.5,
  31.8,23,23,25.5,27.4,26.1,28,30.6,30.3,28.7,
  26.8,30.2,29.3,28,27.8,28.3,28.7,24.8,25.2,28.7,
  29.9,31.2,27.8,29.3,34.6,29.6,31.2,33.8,38.9,31.8];
var stootLeden = [
 [21,31,30,25,21,16,16,13,12,13, 13,12,15,19,20,24,30,38,46,50, 45,40,35,42,48,44,38,33,40,47, 42,36,31,38,45,40,35,30,37,44, 39,34,29,36,42,38,33,28,35,41, 46,40,35,31,38,44,40,36,42,47],
 [20,30,29,24,20,15,15,12,11,13, 12,12,14,18,19,22,26,32,40,48, 42,36,44,52,46,40,50,58,52,45, 55,48,42,60,54,47,40,52,68,95, 97,80,65,55,48,62,75,65,55,48, 58,52,47,42,50,56,50,44,40,46],
 [19,28,27,22,18,14,13,11,10,11, 10,10,12,14,14,16,15,13,11,10, 12,14,12,10,12,15,13,11,9,12, 14,12,10,13,16,14,11,9,12,15, 13,11,10,12,14,12,10,9,11,13, 15,13,11,10,12,14,12,10,11,12],
 [22,32,31,26,22,17,17,14,13,14, 14,14,17,21,22,26,32,40,48,55, 58,50,42,36,44,52,46,40,48,56, 50,44,38,46,54,48,42,36,44,52, 47,41,36,44,50,45,39,34,42,49, 44,38,33,40,47,42,37,45,52,48],
 [21,31,30,25,20,16,16,13,12,14, 14,13,16,20,21,25,28,33,38,36, 32,38,44,40,36,42,48,55,65,76, 74,68,58,50,44,50,58,52,46,40, 48,56,50,44,38,46,54,48,42,36, 42,50,44,38,34,40,46,42,38,44],
 [20,29,28,23,20,26,23,15,13,14, 13,12,15,19,18,20,18,16,14,12, 16,20,17,14,18,22,19,16,14,18, 22,19,16,13,17,21,18,15,13,17, 20,17,15,18,22,19,16,14,18,21, 18,15,13,17,20,18,15,19,23,20],
 [22,32,31,26,22,17,17,15,13,15, 15,15,18,23,24,28,34,44,52,57, 60,55,48,40,34,30,36,44,52,48, 42,55,66,60,52,83,74,62,54,46, 40,48,56,50,44,38,45,52,47,42, 48,56,50,44,52,58,53,47,42,50],
 [21,30,29,24,20,16,15,13,12,13, 13,13,15,18,17,19,21,24,27,25, 22,26,30,27,24,28,33,30,26,31, 35,31,27,24,29,34,30,26,23,28, 32,28,25,22,27,31,28,25,22,26, 30,27,24,28,33,30,27,31,35,32],
 [21,31,30,25,21,16,16,13,12,14, 13,13,15,20,20,23,25,29,33,30, 27,31,36,33,29,34,39,35,31,36, 41,37,33,38,44,40,36,42,48,44, 40,46,55,68,91,75,70,88,82,65, 55,48,44,50,56,50,44,40,46,52],
 [19,28,28,23,19,14,14,11,10,12, 11,11,13,16,16,18,17,15,14,16, 19,17,15,13,16,20,18,15,13,17, 21,19,16,14,18,22,20,17,15,19, 23,21,18,16,20,24,21,18,16,20, 23,20,18,22,26,23,20,17,21,24],
 [20,30,29,24,20,15,15,12,11,13, 12,12,14,17,17,20,22,26,30,28, 25,29,34,31,28,32,37,34,30,35, 40,36,32,37,42,38,34,39,44,40, 36,41,46,42,38,44,50,46,42,56, 68,82,90,91,79,70,60,52,46,42],
 [18,28,27,22,18,13,13,10,9,11, 10,10,12,14,13,14,13,11,10,9, 11,13,11,9,12,14,12,10,9,11, 13,11,9,12,14,12,10,8,11,13, 11,9,12,14,12,10,8,11,13,11, 9,12,14,12,10,8,7,10,12,11],
 [21,31,30,25,21,16,16,14,13,14, 14,14,16,20,21,24,27,31,35,33, 30,34,38,35,32,36,40,37,34,39, 44,40,36,41,46,42,38,43,48,44, 40,45,50,46,42,47,52,48,44,49, 54,50,46,51,56,52,48,57,62,60],
 [22,31,30,25,21,16,17,14,12,14, 14,13,16,21,22,25,29,35,41,38, 34,39,45,41,37,43,49,45,40,46, 52,48,43,49,56,52,47,53,60,55, 50,45,40,47,54,58,65,60,54,48, 55,62,56,50,45,52,60,68,62,55],
 [20,30,29,24,20,15,15,12,11,13, 12,11,14,17,16,17,15,13,12,14, 17,15,13,12,15,18,16,14,12,15, 18,16,14,17,20,18,16,14,17,20, 18,16,14,17,20,18,16,19,22,19, 17,15,18,21,19,16,15,18,21,18],
 [21,30,29,24,20,16,15,13,12,13, 13,12,15,19,19,21,23,27,31,29, 26,30,35,32,29,33,38,35,31,36, 41,37,33,38,43,39,35,40,45,41, 37,42,47,43,39,44,50,55,60,56, 52,58,66,75,85,97,92,80,65,58],
 [21,31,30,25,21,16,16,13,12,14, 13,13,16,20,21,24,28,33,38,44, 40,36,32,38,44,40,35,31,37,43, 39,35,31,36,42,38,33,29,35,41, 37,33,29,34,39,35,31,28,33,38, 35,31,28,33,38,35,31,36,41,38],
 [20,29,28,23,19,15,14,12,11,12, 12,11,14,17,17,19,18,16,15,17, 20,18,16,15,18,21,19,17,15,18, 21,19,17,20,23,20,18,16,19,22, 20,18,16,19,22,20,18,16,19,22, 20,18,21,24,22,19,17,20,23,21],
 [22,32,31,26,22,17,17,14,13,15, 14,14,17,22,23,27,31,36,42,39, 36,42,48,44,40,46,52,48,44,50, 56,52,48,58,68,76,72,64,56,50, 46,52,58,54,50,46,52,58,54,50, 46,52,58,62,58,54,50,56,62,58],
 [20,30,29,24,20,15,15,12,11,13, 12,12,14,18,18,20,22,25,28,26, 24,27,31,28,25,29,33,30,27,31, 35,32,29,26,30,34,31,28,25,29, 33,30,27,24,28,32,29,26,23,27, 31,28,25,29,33,30,27,24,28,25],
 [21,31,30,25,21,16,16,13,12,14, 14,13,16,20,21,24,28,34,40,46, 42,38,44,50,46,42,48,56,52,48, 60,72,81,70,60,52,46,42,48,56, 52,48,55,62,70,78,86,85,70,60, 54,48,44,50,56,52,48,44,40,46],
 [20,29,29,24,20,15,15,12,11,12, 12,12,14,17,16,18,20,22,20,18, 21,24,22,19,22,26,23,20,18,21, 25,22,20,23,27,24,21,19,22,26, 23,20,18,21,25,22,20,23,27,24, 21,19,22,26,23,20,18,22,26,23],
 [22,31,30,25,21,17,16,14,13,14, 14,14,17,21,22,26,31,37,44,50, 46,52,58,54,60,66,72,80,74,66, 58,52,46,42,48,54,50,46,42,38, 44,50,46,42,38,44,50,46,42,38, 34,40,46,42,38,34,40,46,42,38],
 [21,30,30,25,21,16,16,13,12,13, 13,13,15,19,20,23,26,30,34,32, 29,33,37,34,31,35,40,36,33,38, 43,39,35,40,45,41,37,42,47,43, 39,44,49,45,41,46,51,47,43,48, 44,40,45,50,46,42,47,52,48,44]
];

// ---------- neerslagsom ----------
var somControle = [0.1,0.3,0.4,0.4,0.4,0.4,0.4,0.4,0.4,0.4,
  0.4,0.4,0.4,0.4,0.4,0.4,0.4,0.6,1.4,2.0,
  2.2,2.4,2.5,2.5,2.5,2.5,2.5,2.5,2.5,2.5,
  2.6,3.1,3.2,3.6,3.7,4.0,4.0,4.0,4.0,4.0,
  4.0,4.0,4.0,4.1,4.1,5.1,7.1,11.7,13.0,13.3,
  13.5,18.0,18.0,18.0,18.1,19.2,20.9,21.4,21.4,21.4];
var somHoge = [0.1,0.3,0.4,0.4,0.4,0.4,0.4,0.4,0.4,0.4,
  0.4,0.4,0.4,0.4,0.4,0.4,0.5,0.9,1.0,1.5,
  2.1,2.4,2.5,2.6,2.7,2.7,2.7,2.7,2.7,2.7,
  2.7,2.7,2.7,2.7,2.7,2.8,3.1,4.5,5.3,5.6];
var somMediaan = [0.1,0.3,0.4,0.4,0.4,0.4,0.4,0.4,0.4,0.4,
  0.4,0.4,0.4,0.4,0.4,0.4,0.6,1.5,2.8,4.5,
  5.5,6.2,7.0,8.0,8.5,8.7,9.5,10.5,12.0,14.0,
  16.3,17.6,18.3,18.7,18.9,20.2,20.6,21.9,22.4,22.6,
  22.6,23.2,23.6,24.5,25.5,27.0,27.7,27.8,29.1,29.6,
  29.8,30.6,31.1,31.3,31.4,31.8,31.8,32.0,32.4,32.6];
var somLeden = [
 [0.2,0.3,0.3,0.3,0.3,0.4,0.4,0.4,0.4,0.4, 0.4,0.4,0.4,0.4,0.4,0.5,1,3,6,9, 13,19,28,30.5,33,38.5,40.5,41.2,41.3,41.3, 41.3,41.3,41.3,41.5,42.5,43,43.5,44,44,44, 44.5,56,57,57,57,57,57,57,58,60, 63,66,70,72,72,72,72.5,73.5,74.5,76],
 [0.2,0.3,0.3,0.3,0.3,0.3,0.3,0.3,0.3,0.3, 0.3,0.3,0.3,0.3,0.3,0.3,0.5,1.5,4,7, 11,15,20,25,30,35,38,40,44,47, 47.5,49,52,54,54.5,55.5,56,57,58,58, 58,58,58,58,58,58,58,58,58,58, 58.2,58.2,58.2,58.3,58.3,58.3,58.4,58.4,58.5,58.5],
 [0.2,0.2,0.2,0.2,0.2,0.2,0.3,0.3,0.3,0.3, 0.3,0.3,0.3,0.3,0.3,0.3,0.5,1.5,3,5, 7,9,11,13,14,15,16.5,18,19,20, 21,22,23.5,25,26.5,28,30,32,34,36, 38,39,40,41,42,43,44,46,48,49, 49.5,50,52,58,65,72,72.5,73,73.2,73.5],
 [0.2,0.2,0.2,0.2,0.2,0.2,0.2,0.2,0.2,0.2, 0.2,0.2,0.2,0.2,0.2,0.3,0.8,2.5,5,8, 10,12,14,16,18,20,22,23.5,25,27, 28,28.5,30,32,33,33.5,35,36.5,37,37.5, 39,40.5,41,41.5,43.5,44,45,46.5,47,48, 49,50,51,52,54,56,57,62,65,67.5],
 [0.2,0.3,0.3,0.3,0.3,0.3,0.3,0.3,0.3,0.3, 0.3,0.3,0.3,0.3,0.3,0.3,0.8,2,3.5,6, 8,10.5,13,14.5,15,16,18,19.5,21,22, 22.5,24,26,27,27.5,28,30,32.5,35,36, 37,38,39.5,41,43,45,47.5,48.5,49,49, 49.5,50,50.5,51,51.5,52,52.5,53,54,55],
 [0.1,0.2,0.2,0.2,0.2,0.2,0.2,0.2,0.2,0.2, 0.2,0.2,0.2,0.2,0.2,0.3,0.5,1,2,3.5, 5,6,7.5,8.5,10,12,14,16,18,20, 22,24,25,25.5,26,27,29,32,35,36, 37,38,39,40,41,42,43,44,44.5,44.5, 44.5,44.5,44.5,44.5,44.5,44.5,45,45.5,46,47],
 [0.2,0.3,0.3,0.3,0.3,0.3,0.3,0.3,0.3,0.3, 0.3,0.3,0.3,0.3,0.3,0.3,0.5,1.5,2.5,4, 5,6,6.5,7,7.5,8,9,10,10.5,11, 12,13,14,15,16,18,20,22,24,25, 26,27,28,29,30,31,33,36,40,43, 44,44,44,44,44.2,44.2,44.3,44.3,44.5,44.5],
 [0.2,0.2,0.2,0.2,0.2,0.2,0.2,0.2,0.2,0.2, 0.2,0.2,0.2,0.2,0.2,0.2,0.5,2,5,9, 13,17,20,22,24,27,30,31,32,32, 32,32.5,33,34,35,35.5,36,36,36.5,37, 37,37,37.5,37.5,37.5,37.5,37.5,37.5,37.5,37.8, 37.8,37.8,37.8,37.8,37.9,37.9,37.9,38,38,38],
 [0.2,0.2,0.2,0.2,0.2,0.2,0.2,0.2,0.2,0.2, 0.2,0.2,0.2,0.2,0.2,0.3,0.6,1.5,3,4.5, 6,7.5,8,9.5,10,10.5,12,13.5,14,16, 17.5,18,18.5,20,21.5,22,22.5,24,25,25, 25.5,26.5,27,28.5,29,29,30,31,31,31.5, 32,32,32,32.2,32.4,32.6,32.8,33,33,33],
 [0.2,0.3,0.3,0.3,0.3,0.3,0.3,0.3,0.3,0.3, 0.3,0.3,0.3,0.3,0.3,0.3,0.6,2,4,6.5, 8,9.5,11,12.5,13,13.5,14,14,14.5,15, 15,15.5,16,16,16.5,17,17,17.5,18,18, 18.5,19,19.5,20,21,22,23.5,25,26.5,27, 27.5,28,28,28.5,29,29,29.5,29.5,30,30],
 [0.2,0.2,0.2,0.2,0.2,0.2,0.2,0.2,0.2,0.2, 0.2,0.2,0.2,0.2,0.2,0.2,0.4,1,2,3, 4,5,5.5,6,7,7.5,8,8.5,9,9.5, 10,10.5,11,11,11.5,12,13,13.5,14,14, 14.5,15,15.5,16,16.5,17,17.5,18,18.5,19, 19.5,20,21,22,22.5,23,23.5,23.5,24,24],
 [0.2,0.2,0.2,0.2,0.2,0.2,0.2,0.2,0.2,0.2, 0.2,0.2,0.2,0.2,0.2,0.2,0.3,0.8,1.5,2.5, 3.5,4,4.5,5,5.5,5.5,6,6,6.5,6.5, 7,7,7.5,8,8.5,9,9,9.5,10,10, 10.5,11,11,11.5,12,12.5,13,13.5,14,15, 16,17,18,18.5,19,19.5,20,20.5,21,21],
 [0.2,0.2,0.2,0.2,0.2,0.2,0.2,0.2,0.2,0.2, 0.2,0.2,0.2,0.2,0.2,0.3,0.8,2,4,6, 8,9,10,11,12,12.5,13,13.5,14,14.5, 15,15,15,15,15,15,15,15,15.2,15.2, 15.2,15.2,15.2,15.2,15.2,15.2,15.3,15.3,15.3,15.3, 15.3,15.3,15.3,15.4,15.4,15.4,15.5,15.5,15.5,15.5],
 [0.1,0.1,0.1,0.1,0.1,0.1,0.1,0.1,0.1,0.1, 0.1,0.1,0.1,0.1,0.1,0.1,0.1,0.2,0.3,0.4, 0.5,0.6,0.7,0.8,0.9,1,1,1,1,1, 1,1,1,1,1,1,1,1,1,1, 1,1,1,1,1,1,1.1,1.2,1.5,2, 2.5,3,3.5,3.5,3.5,3.5,4,6,9,12],
 [0.2,0.2,0.2,0.2,0.2,0.2,0.2,0.2,0.2,0.2, 0.2,0.2,0.2,0.2,0.2,0.2,0.5,1,2,3, 3.5,4,4.5,5,5.2,5.4,5.5,5.6,5.7,5.8, 5.8,5.9,5.9,6,6,6,6,6.1,6.1,6.1, 6.1,6.2,6.2,6.2,6.2,6.2,6.2,6.3,6.3,6.3, 6.3,6.3,6.3,6.3,6.3,6.3,6.3,6.3,6.3,6.3],
 [0.2,0.2,0.2,0.2,0.2,0.2,0.2,0.2,0.2,0.2, 0.2,0.2,0.2,0.2,0.2,0.3,0.6,1.5,2.5,3.5, 5,6,7,8,8.5,9,9.5,10,10,10.5, 10.5,10.5,11,11,11,11.5,11.5,11.5,12,12, 12,12.5,13,13.5,14,14.5,15,15.5,16,16.5, 17,17,17.5,17.5,18,18,18.5,18.5,19,19],
 [0.2,0.3,0.3,0.3,0.3,0.3,0.3,0.3,0.3,0.3, 0.3,0.3,0.3,0.3,0.3,0.4,1,3,5.5,8, 10,11.5,13,14,15,16.5,18,19,20,21.5, 22.5,23,24,25,25.5,26,27,28,28.5,29, 29.5,30,30.5,31,31.5,32,32.5,33,33.5,34, 34,34.2,34.4,34.5,34.6,34.7,34.8,34.9,35,35],
 [0.2,0.2,0.2,0.2,0.2,0.2,0.2,0.2,0.2,0.2, 0.2,0.2,0.2,0.2,0.2,0.3,0.8,1.5,2.5,4, 5.5,7,8,9,10,11,12,13,13.5,14, 14.5,15,15,15.2,15.4,15.5,15.6,15.8,16,16.5, 17,17.5,18,18.5,19,20,21,22,23,24, 24.5,25,25.5,26,26.2,26.4,26.6,26.8,27,27],
 [0.2,0.3,0.3,0.3,0.3,0.3,0.3,0.3,0.3,0.3, 0.3,0.3,0.3,0.3,0.3,0.4,1.2,3.5,6,8.5, 11,13.5,15.5,17,19,20.5,22,23,24,26, 27,28,29.5,31,32,33,34,34.5,35,35.5, 36,36.5,37,38,39,40,40.5,41,41.5,41.5, 41.5,41.6,41.7,41.8,41.8,41.9,41.9,42,42,42],
 [0.2,0.2,0.2,0.2,0.2,0.2,0.2,0.2,0.2,0.2, 0.2,0.2,0.2,0.2,0.2,0.2,0.5,1.5,3,4.5, 6,7,8,9,9.5,10,10.5,11,12,13, 14,14.5,15,15.5,16,17,17.5,18,18.5,19, 19.5,20,20.5,21,21.5,22,22.2,22.4,22.6,22.8, 23,23,23,23,23,23,23,23,23,23],
 [0.2,0.2,0.2,0.2,0.2,0.2,0.2,0.2,0.2,0.2, 0.2,0.2,0.2,0.2,0.2,0.2,0.4,1,1.8,2.5, 3,3.5,4,4.2,4.4,4.6,4.8,5,5.2,5.4, 5.6,5.8,6,6.2,6.4,6.6,6.8,7,7.2,7.5, 8,8.5,9,9.5,10,10.5,11,11.5,12,13, 14,15,16,17,17.5,18,18.5,19,19.5,19.5],
 [0.1,0.1,0.1,0.1,0.1,0.1,0.1,0.1,0.1,0.1, 0.1,0.1,0.1,0.1,0.1,0.1,0.3,0.8,1.5,2, 2.5,2.8,3,3.1,3.2,3.2,3.3,3.3,3.3,3.3, 3.4,3.4,3.4,3.4,3.4,3.4,3.4,3.4,3.4,3.4, 3.5,3.5,3.5,3.5,3.5,3.5,3.5,3.5,3.5,3.5, 3.5,3.5,3.5,3.5,3.5,3.5,3.5,3.5,3.5,3.5]
];

// ---------- sneeuwval ----------
var sneeuwControle = [0,0,0,0,0,0,0,0,0,0,
  0.05,0,0.1,0,0,0,0,0,0,0.4,
  0.35,0.05,0,0.2,0,0,0,0,0,0,
  0,0,0.1,0.4,0.1,0.5,0.1,0,0,0,
  0,0,0,0,0,0.5,0,0,0,0,
  0,0,0,0,0,0,0,0,0,0];
var sneeuwHoge = [0,0,0,0,0,0,0,0,0,0,
  0,0,0,0,0,0,0.1,0.3,0,0,
  0,0,0,0,0,0,0,0,0,0,
  0,0,0,0,0.1,0,0,0,0,0];
var sneeuwMediaan = [0,0,0,0,0,0,0,0,0,0, 0,0,0,0,0,0,0,0,0,0,
  0,0,0,0,0,0,0,0,0,0, 0,0,0,0,0,0,0,0,0,0,
  0,0,0,0,0,0,0,0,0,0, 0,0,0,0,0,0,0,0,0,0];
var sneeuwLeden = [
 [0,0,0,0,0,0,0,0,0,0, 0,0,0,0,0,0,0,5.1,1.5,0, 0,0.5,0,0,0,0,0,0,0,0, 7.8,2,0,0,0,0.5,0,0,0,0, 0,0,0,0,4.1,0.5,0,0,0,0, 0,0,0,0,0,0,0,0,0,0],
 [0,0,0,0,0,0,0,0,0,0, 0,0,0,0,0,0,0,3.3,0.8,0, 0,3.3,1.2,0,0,0,0.5,0,0,0, 0,0,0,0,0,6.8,5.9,0.3,0,0, 0,0,0,0,0,0,0,0,0,0, 0,3.3,0,0,0,0,0,0,0,0],
 [0,0,0,0,0,0,0,0,0,0, 0,0,0,0,0,0,0.5,0,3.6,1, 0,0,0,0,0,0,2.7,0.8,0,0, 0,3.3,0.5,0,0,0,0,0,0,0, 0,0,0,0,0,0,3.9,2.4,0.3,0, 0,0,0,0,0,0,0,0,0,0],
 [0,0,0,0,0,0,0,0,0,0, 0,0,0,0,0,0,0,1.6,1,0, 1.3,0.3,0,0,0,0,0,0,0,1.8, 1.9,0,0,0,0,2.9,2.4,0.5,0,0, 0,0,0,0,0,0,0,0,3.5,0.8, 0,0,0,0,0,0,0,0,0,0],
 [0,0,0,0,0,0,0,0,0,0, 0,0,0,0,0,0,0,0.9,1.4,0.3, 0,0,0,0,0,0.8,1.4,0,1.2,0, 0,0,3.1,0.8,0,0,0,0,0,0, 0,0,2.8,1.9,0.3,0,0,0,0,0, 0,0,0,0,0,0,0,0,3.4,0],
 [0,0,0,0,0,0,0,0,0,0, 0,0,0,0,0,0,0,0.6,0,0, 0.6,1.4,0,0,0,0,1.2,0.3,0,0, 0,0,0,0,2.3,1.9,0.5,0,0,0, 0,0,0,0,0,0,0,0,0,0, 0,0,0,2.4,0.8,0.5,0,0,0,0],
 [0,0,0,0,0,0,0,0,0,0, 0,0,0,0,0,0,0.2,0.4,0,0, 0,0,0.3,0,0,0,0,0,0,0.9, 0.6,0,0,1.5,0,0,0,2.3,1.3,0, 0,0,1.1,0,0,0,0,1.9,0,0, 0,0,0,0,0,2.6,2.5,1.6,0.5,0],
 [0,0,0,0,0,0,0,0,0,0, 0,0,0,0,0,0,0,0,0,0, 0,0,0,0,0.3,0.5,0,0,0,1.2, 0,1,0,0,0,0,1,1.6,0,0, 1.2,1,0,0,0.8,1.3,0,0,0,0, 0,0,0,0,0,0,0.6,1,2.8,0],
 [0,0,0,0,0,0,0,0,0,0, 0,0.1,0.1,0,0,0,0,0,0.3,0.2, 0,0,0,0,0,0,0.8,0,0,0.5, 0,0,0,0,0.8,0,0,0,0.5,0, 0,0,0,0.8,0,0,0,0,0,0, 0.5,0.2,0,0,0.3,0.8,0.3,0,1.5,0],
 [0,0,0,0,0,0,0,0,0,0.1, 0,0,0.1,0,0,0,0,0,0,0, 0.5,1,0,0,0,0,0,0,0,0, 1,0.5,0,0,0,0,0,0,0,0.4, 0.8,0,1.2,0,0,0.8,0.5,0,0,0, 0,0,0,0,0,0,0,0,0.9,0],
 [0,0,0,0,0,0,0,0,0,0, 0,0,0,0,0,0,0,0.3,0,0.5, 0,0,0,0,0,0,0,0,0.3,0, 0,0,0,0.3,0,0.3,0,0,0,0, 0,0.5,0,0.5,0,0,0,0,0,0.3, 0,0,0.2,0,0,0.3,0,0,0,0],
 [0,0,0,0,0,0,0,0,0,0, 0,0,0,0,0,0,0,0,0,0, 0,0.2,0,0,0,0.3,0,0,0,0.3, 0,0,0,0,0,0,0.3,0,0,0, 0,0,0,0,0.3,0,0,0,0.2,0, 0,0,0,0.2,0,0,0,0.2,0,0]
];

var xMin = -21.3, xMax = 339.6;
var lettertype = 'DejaVu Sans';
var streepjes = 'path://M0,0h4v1h-4zM5.5,0h4v1h-4zM11,0h4v1h-4z';

function punten(waarden) {
  var uit = [];
  for (var i = 0; i < waarden.length && i < uren.length; i++) uit.push([uren[i], waarden[i]]);
  return uit;
}

function dagLabel(v) {
  var k = Math.round(v / 24);
  return dagNamen[k] + '\n' + datums[k];
}

function tekenPaneel(id, cfg) {
  var chart = echarts.init(document.getElementById(id));
  var vlakken = banden.map(function (b) {
    return [{ xAxis: b }, { xAxis: Math.min(b + 24, xMax) }];
  });
  var series = [];
  // lege reeks: legenda-item, dagbanden en nullijn
  var basis = {
    name: 'Verstoorde runs', type: 'line', data: [], z: 1, silent: true, symbol: 'none',
    lineStyle: { color: '#a6d4a6', width: 3 }, itemStyle: { color: '#a6d4a6' },
    markArea: { silent: true, itemStyle: { color: 'rgba(0,0,0,0.052)' }, data: vlakken }
  };
  if (cfg.nullijn) {
    basis.markLine = {
      silent: true, symbol: ['none', 'none'], label: { show: false },
      lineStyle: { color: '#555', width: 1, type: 'solid' },
      data: [[{ coord: [-18, 0] }, { coord: [330, 0] }]]
    };
  }
  series.push(basis);
  cfg.leden.forEach(function (lid) {
    series.push({
      name: 'Verstoorde runs ', type: 'line', data: punten(lid), z: 2, silent: true,
      symbol: 'none', itemStyle: { color: '#138a13' },
      lineStyle: { color: '#178e17', width: 1, opacity: 0.66 }
    });
  });
  series.push({
    name: 'Middelste (P50)', type: 'line', data: punten(cfg.mediaan), z: 3, silent: true,
    symbol: 'none', itemStyle: { color: '#b02c2c' },
    lineStyle: { color: '#b02c2c', width: 2.2, type: [6, 4] }
  });
  series.push({
    name: 'Controle', type: 'line', data: punten(cfg.controle), z: 4, silent: true,
    symbol: 'none', itemStyle: { color: '#000' },
    lineStyle: { color: '#000', width: 2.2, type: [6, 4] }
  });
  series.push({
    name: 'Hoge resolutie', type: 'line', data: punten(cfg.hoge), z: 5, silent: true,
    symbol: 'none', itemStyle: { color: '#ff0000' },
    lineStyle: { color: '#ff0000', width: 2.2 }
  });

  var yAs = {
    type: 'value', min: cfg.min, max: cfg.max, interval: cfg.stap,
    axisLine: { show: false }, axisTick: { show: false },
    axisLabel: { color: '#666', fontSize: 10.5, margin: 16 },
    splitLine: { lineStyle: { color: '#e6e6e6' } }
  };
  var yAsRechts = {
    type: 'value', position: 'right', min: cfg.min, max: cfg.max, interval: cfg.stap,
    axisLine: { show: false }, axisTick: { show: false },
    axisLabel: { color: '#666', fontSize: 10.5, margin: 16 },
    splitLine: { show: false }
  };

  chart.setOption({
    animation: false,
    textStyle: { fontFamily: lettertype },
    title: [
      { text: cfg.titel, left: 'center', top: 3,
        textStyle: { fontSize: 18, fontWeight: 'normal', color: '#333', fontFamily: lettertype } },
      { text: subtitel, left: 'center', top: 30,
        textStyle: { fontSize: 12, fontWeight: 'normal', color: '#666', fontFamily: lettertype } }
    ],
    grid: { left: 48, right: 49, top: 60, bottom: 75 },
    legend: {
      left: 'center', top: 366, itemWidth: 15, itemHeight: 3, itemGap: 12,
      selectedMode: false, symbolKeepAspect: false,
      textStyle: { fontSize: 12, color: '#333', fontFamily: lettertype },
      data: [
        { name: 'Verstoorde runs', icon: 'rect', itemStyle: { color: '#a6d4a6' } },
        { name: 'Controle', icon: streepjes, itemStyle: { color: '#000' } },
        { name: 'Hoge resolutie', icon: 'rect', itemStyle: { color: '#ff0000' } },
        { name: 'Middelste (P50)', icon: streepjes, itemStyle: { color: '#b02c2c' } },
        { name: 'Verstoorde runs ', icon: 'rect', itemStyle: { color: '#138a13', opacity: 1 } }
      ]
    },
    graphic: [{
      type: 'text', right: 8, bottom: 2, silent: true,
      style: { text: 'Bron: ECMWF/KNMI', fill: '#999', font: '9px "DejaVu Sans"' }
    }],
    xAxis: {
      type: 'value', min: xMin, max: xMax,
      axisLine: { show: true, onZero: false, lineStyle: { color: '#ccd6eb' } },
      axisTick: { show: true, length: 10, customValues: dagUren, lineStyle: { color: '#ccd6eb' } },
      axisLabel: { customValues: dagUren, formatter: dagLabel, align: 'left', color: '#666',
        fontSize: 10.5, lineHeight: 14, margin: 10 },
      splitLine: { show: false }
    },
    yAxis: [yAs, yAsRechts],
    series: series
  });
}

tekenPaneel('p1', { titel: 'Temperatuur (˚C)', min: -15, max: 15, stap: 5, nullijn: true,
  leden: tempLeden, controle: tempControle, hoge: tempHoge, mediaan: tempMediaan });
tekenPaneel('p2', { titel: 'Windsnelheid (km/uur)', min: 0, max: 55, stap: 5,
  leden: windLeden, controle: windControle, hoge: windHoge, mediaan: windMediaan });
tekenPaneel('p3', { titel: 'Neerslag (mm, 6 uurlijks)', min: 0, max: 18, stap: 2,
  leden: regenLeden, controle: regenControle, hoge: regenHoge, mediaan: regenMediaan });
tekenPaneel('p4', { titel: 'Windstoten (km/uur)', min: 0, max: 100, stap: 20,
  leden: stootLeden, controle: stootControle, hoge: stootHoge, mediaan: stootMediaan });
tekenPaneel('p5', { titel: 'Neerslagsom (mm)', min: 0, max: 80, stap: 10,
  leden: somLeden, controle: somControle, hoge: somHoge, mediaan: somMediaan });
tekenPaneel('p6', { titel: 'Sneeuwval (cm, 6 uurlijks)', min: 0, max: 10, stap: 5,
  leden: sneeuwLeden, controle: sneeuwControle, hoge: sneeuwHoge, mediaan: sneeuwMediaan });
</script>
</body>
</html>
